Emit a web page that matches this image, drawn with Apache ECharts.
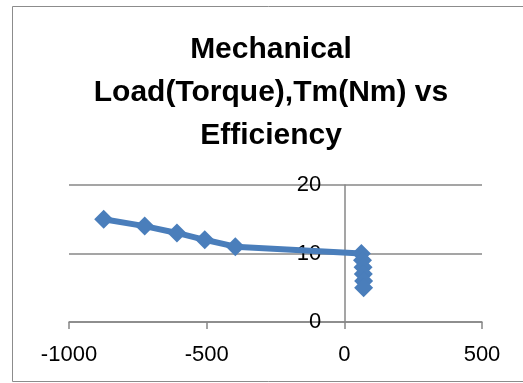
<!DOCTYPE html>
<html>
<head>
<meta charset="utf-8">
<script src="https://cdn.jsdelivr.net/npm/echarts@6/dist/echarts.min.js"></script>
<style>
  html, body { margin: 0; padding: 0; background: #fff; }
  #chart { width: 523px; height: 383px; }
</style>
</head>
<body>
<div id="chart"></div>
<script>
// Mechanical load torque (Nm) against efficiency
const torque = [-874, -725, -608, -507, -396, 62, 66, 68, 69, 70, 70];
const efficiency = [15, 14, 13, 12, 11, 10, 9, 8, 7, 6, 5];
const titleLines = ['Mechanical', 'Load(Torque),Tm(Nm) vs', 'Efficiency'];

const points = torque.map((t, i) => [t, efficiency[i]]);
const font = 'Liberation Sans, Arial, sans-serif';
const axisGray = '#878787';

const xMin = -1000, xMax = 500;
const gridLeft = 69, gridRight = 41;
const plotWidth = 523 - gridLeft - gridRight;
// the value axis crosses the category axis at x = 0
const yAxisOffset = -plotWidth * (0 - xMin) / (xMax - xMin);

const chart = echarts.init(document.getElementById('chart'), null, { renderer: 'canvas' });
chart.setOption({
  backgroundColor: '#ffffff',
  animation: false,
  title: {
    text: titleLines.join('\n'),
    left: 266,
    top: 23,
    textAlign: 'center',
    textStyle: {
      fontFamily: font,
      fontWeight: 'bold',
      fontSize: 30,
      lineHeight: 43,
      color: '#000'
    }
  },
  graphic: [{
    type: 'rect',
    shape: { x: 12.5, y: 6.5, width: 530, height: 375 },
    style: { fill: 'none', stroke: '#8c8c8c', lineWidth: 1 },
    silent: true,
    z: -1
  }],
  grid: { left: gridLeft, right: gridRight, top: 185, bottom: 61 },
  xAxis: {
    type: 'value',
    min: xMin,
    max: xMax,
    interval: 500,
    axisLine: { show: true, onZero: false, lineStyle: { color: axisGray, width: 1.5 } },
    axisTick: { show: true, inside: false, length: 7, lineStyle: { color: axisGray, width: 1.5 } },
    axisLabel: { fontFamily: font, fontSize: 22, color: '#000', margin: 22, formatter: v => String(v) },
    splitLine: { show: false }
  },
  yAxis: {
    type: 'value',
    min: 0,
    max: 20,
    interval: 10,
    position: 'left',
    offset: yAxisOffset,
    axisLine: { show: true, onZero: false, lineStyle: { color: axisGray, width: 1.5 } },
    axisTick: { show: false },
    axisLabel: { fontFamily: font, fontSize: 22, color: '#000', margin: 23, formatter: v => String(v) },
    splitLine: { show: true, lineStyle: { color: axisGray, width: 1.5 } }
  },
  series: [{
    type: 'line',
    data: points,
    symbol: 'diamond',
    symbolSize: 19,
    lineStyle: { color: '#4a7ebb', width: 6 },
    itemStyle: { color: '#4a7ebb' },
    z: 3
  }]
});
</script>
</body>
</html>
